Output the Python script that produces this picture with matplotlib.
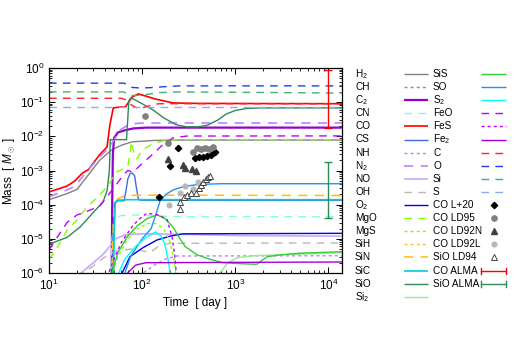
import numpy as np
import matplotlib
matplotlib.use('Agg')
import matplotlib.pyplot as plt
from matplotlib.lines import Line2D

plt.rcParams['font.family'] = ['Liberation Sans', 'DejaVu Sans']
plt.rcParams['mathtext.fontset'] = 'custom'
plt.rcParams['mathtext.rm'] = 'Liberation Sans'
plt.rcParams['mathtext.it'] = 'Liberation Sans:italic'
plt.rcParams['mathtext.bf'] = 'Liberation Sans:bold'

# ---------------- data (time in days, mass in Msun) ----------------
t_H2 = [10, 15.6, 20, 26, 35, 47, 60, 78, 138, 300, 14000]
m_H2 = [1.4e-4, 2.1e-4, 2.8e-4, 7e-4, 2e-3, 4e-3, 5.5e-3, 6.9e-3, 7.6e-3, 7.8e-3, 7.8e-3]
t_CH, m_CH = [], []
t_C2 = [47, 47.7, 48.5, 50, 55, 65, 80, 110, 14000]
m_C2 = [5e-7, 1e-4, 3e-3, 9e-3, 0.013, 0.015, 0.017, 0.018, 0.018]
t_CN = [46, 47.5, 50, 60, 80, 120, 200, 14000]
m_CN = [5e-7, 1e-5, 4e-5, 4.8e-5, 5e-5, 4.8e-5, 4.5e-5, 4.4e-5]
t_CO = [10, 15.6, 19, 23, 26.4, 35, 42, 45, 49, 58, 66, 78, 91, 110, 138, 215, 400, 14000]
m_CO = [2.35e-4, 3.5e-4, 5e-4, 8.5e-4, 1.05e-3, 2.9e-3, 4.9e-3, 0.021, 0.068, 0.072, 0.072,
        0.142, 0.174, 0.15, 0.124, 0.095, 0.092, 0.09]
t_CS = [47.5, 49, 50.5, 55, 64, 67, 70, 74, 78, 83, 87, 91, 95, 14000]
m_CS = [5e-7, 2e-5, 1.1e-4, 1.3e-4, 1.3e-4, 2.5e-4, 5.5e-4, 8e-4, 8.5e-4, 7e-4, 3e-4,
        1.5e-4, 1.35e-4, 1.35e-4]
t_NH = [90, 102, 140, 180, 237, 14000]
m_NH = [5e-7, 1e-6, 1.8e-6, 2.6e-6, 3.15e-6, 3.2e-6]
t_N2 = [10, 15.6, 19, 26.4, 35, 45, 58, 74, 100, 14000]
m_N2 = [1.7e-4, 2.7e-4, 3.5e-4, 1.05e-3, 2.5e-3, 4.9e-3, 0.0154, 0.023, 0.0246, 0.0246]
t_NO = [19, 22, 30, 38, 45, 52, 65, 100, 300, 1000, 14000]
m_NO = [6e-7, 1e-6, 2e-6, 3.5e-6, 6e-6, 1e-5, 1.3e-5, 1.4e-5, 1.35e-5, 1.25e-5, 1.2e-5]
t_OH = [21, 23, 30, 38, 45, 55, 74, 95, 122, 156, 200, 14000]
m_OH = [7e-7, 1e-6, 1.6e-6, 2.7e-6, 3.7e-6, 4.5e-6, 5e-6, 4.6e-6, 4e-6, 6.5e-6, 7.4e-6, 7.6e-6]
t_O2 = [54, 74, 102, 145, 200, 275, 14000]
m_O2 = [5e-7, 3e-6, 5.5e-6, 9.3e-6, 1.2e-5, 1.4e-5, 1.45e-5]
t_MgO = [10, 12, 15.6, 20, 25.7, 35, 45, 51, 60, 70, 74, 77, 82, 88, 100, 130, 170, 250, 14000]
m_MgO = [2.5e-6, 5e-6, 1.8e-5, 3.6e-5, 8.6e-5, 1.9e-4, 4.3e-4, 8.5e-4, 1.05e-3, 1.3e-3,
         3e-3, 7e-3, 3e-3, 2.2e-3, 4e-3, 6e-3, 7.5e-3, 8e-3, 8e-3]
t_MgS = [45, 55, 70, 90, 115, 140, 170, 200, 220, 235]
m_MgS = [5e-7, 3e-6, 1e-5, 2e-5, 2.8e-5, 2.8e-5, 2e-5, 8e-6, 2.5e-6, 6e-7]
t_SiH, m_SiH = [], []
t_SiN = [47, 48.5, 50, 55, 65, 90, 14000]
m_SiN = [5e-7, 1e-5, 1e-4, 1.5e-4, 1.8e-4, 1.9e-4, 1.85e-4]
t_SiC = [49, 50, 51.5, 55, 70, 14000]
m_SiC = [5e-7, 1e-5, 1.2e-4, 1.35e-4, 1.4e-4, 1.4e-4]
t_SiO = [10, 15.6, 21.5, 29.7, 38, 42, 44.5, 45.5, 68, 70, 72, 75, 80, 100, 130, 170, 230,
         300, 400, 500, 650, 800, 1000, 1300, 1800, 14000]
m_SiO = [7e-6, 1.1e-5, 2.2e-5, 5.8e-5, 1.2e-4, 2.5e-4, 1e-3, 8e-3, 8e-3, 3e-2, 0.11, 0.13,
         0.125, 0.09, 0.06, 0.035, 0.022, 0.019, 0.019, 0.021, 0.03, 0.045, 0.057, 0.065,
         0.068, 0.068]
t_Si2 = [680, 840, 1050, 1560, 3000, 14000]
m_Si2 = [1e-6, 2e-6, 2.8e-6, 3.2e-6, 3.4e-6, 3.9e-6]
t_SiS = [44, 55, 70, 90, 115, 145, 175, 215, 250, 290, 390, 540, 740, 1000, 1700, 2200,
         3050, 5000, 14000]
m_SiS = [5e-7, 4e-6, 1.2e-5, 2.5e-5, 4e-5, 5e-5, 4e-5, 2.2e-5, 1.1e-5, 5.9e-6, 3.4e-6,
         2.5e-6, 2e-6, 1.9e-6, 1.8e-6, 3e-6, 3.4e-6, 3.8e-6, 4.2e-6]
t_SO = [60, 75, 100, 125, 140, 156, 180, 215, 280, 400, 700, 14000]
m_SO = [5e-7, 3e-6, 1e-5, 2e-5, 5e-5, 1.3e-4, 2e-4, 2.7e-4, 3.4e-4, 3.9e-4, 4.1e-4, 4.1e-4]
t_S2 = [50, 65, 85, 110, 140, 160, 175, 190, 205]
m_S2 = [5e-7, 2.5e-6, 6e-6, 1.1e-5, 1.6e-5, 1.2e-5, 7e-6, 2.5e-6, 6e-7]
t_FeO = [10, 12.5, 15.6, 20, 26, 35, 45, 55, 62, 70, 80, 100, 130, 170, 215, 300, 14000]
m_FeO = [4.8e-6, 1.2e-5, 3e-5, 5e-5, 6.5e-5, 9e-5, 2.2e-4, 4.5e-4, 7e-4, 1e-3, 9e-4,
         1.6e-3, 3e-3, 6e-3, 9e-3, 1.02e-2, 1.03e-2]
t_FeS = [40, 48, 60, 80, 100, 113, 150, 186, 210, 225, 237]
m_FeS = [5e-7, 2e-6, 8e-6, 2.5e-5, 4.5e-5, 5.6e-5, 5e-5, 3.6e-5, 1.1e-5, 3e-6, 5e-7]
t_Fe2 = [62, 70, 85, 110, 14000]
m_Fe2 = [5e-7, 1e-6, 1.7e-6, 2e-6, 2.1e-6]
t_C = [10, 60, 68, 78, 90, 105, 125, 150, 14000]
m_C = [0.13, 0.13, 0.115, 0.08, 0.066, 0.07, 0.082, 0.09, 0.09]
t_O = [10, 64, 72, 78, 95, 120, 160, 250, 14000]
m_O = [0.36, 0.36, 0.31, 0.27, 0.26, 0.265, 0.28, 0.30, 0.30]
t_Si = [10, 62, 72, 80, 100, 150, 250, 1000, 14000]
m_Si = [0.2, 0.2, 0.18, 0.155, 0.16, 0.19, 0.2, 0.195, 0.185]
t_S = [10, 14000]
m_S = [0.072, 0.072]

# observations
t_L20 = [152, 200, 244, 372, 410, 453, 501, 553, 610]
m_L20 = [1.7e-4, 1.36e-3, 4.6e-3, 2.3e-3, 2.5e-3, 2.5e-3, 2.7e-3, 2.9e-3, 3.5e-3]
t_LD95 = [108, 191, 353, 390, 430, 475, 525, 580]
m_LD95 = [0.04, 6.4e-3, 3.5e-3, 4.6e-3, 4.3e-3, 4.6e-3, 4.3e-3, 4.9e-3]
t_LD92N = [191, 275, 290, 345, 380]
m_LD92N = [2.2e-3, 1.45e-3, 1.2e-3, 1.1e-3, 9.8e-4]
t_LD92L = [195, 257, 290, 355, 400]
m_LD92L = [1e-4, 2.2e-4, 3.5e-4, 2.9e-4, 4.6e-4]
t_LD94 = [256, 256, 283, 303, 336, 380, 410, 430, 453, 488, 513, 538]
m_LD94 = [7.6e-5, 1.2e-4, 1.7e-4, 1.9e-4, 2.2e-4, 2.2e-4, 3.1e-4, 3.8e-4, 4.6e-4, 5.6e-4,
          6.5e-4, 6.9e-4]
t_ALMA = 1e4
co_alma = [0.018, 0.09, 0.87]     # low, centre, high
sio_alma = [4.1e-5, 2.7e-4, 1.8e-3]

labels1 = ['H$_2$', 'CH', 'C$_2$', 'CN', 'CO', 'CS', 'NH', 'N$_2$', 'NO', 'OH', 'O$_2$',
           'MgO', 'MgS', 'SiH', 'SiN', 'SiC', 'SiO', 'Si$_2$']
labels2 = ['SiS', 'SO', 'S$_2$', 'FeO', 'FeS', 'Fe$_2$', 'C', 'O', 'Si', 'S']
labels_obs = ['CO L+20', 'CO LD95', 'CO LD92N', 'CO LD92L', 'SiO LD94', 'CO ALMA', 'SiO ALMA']

LONG = (5.5, 4.5)
SHORT = (2.2, 2.2)
series1 = [
    (t_H2, m_H2, '#808080', None, 1.0),
    (t_CH, m_CH, '#909090', SHORT, 1.0),
    (t_C2, m_C2, '#9400d3', None, 1.6),
    (t_CN, m_CN, '#7fffd4', LONG, 1.0),
    (t_CO, m_CO, '#ff0000', None, 1.2),
    (t_CS, m_CS, '#4169e1', None, 1.0),
    (t_NH, m_NH, '#c080ff', SHORT, 1.0),
    (t_N2, m_N2, '#c080ff', LONG, 1.2),
    (t_NO, m_NO, '#c8a8ff', None, 1.2),
    (t_OH, m_OH, '#b8b8b8', LONG, 1.0),
    (t_O2, m_O2, '#0000e8', None, 1.0),
    (t_MgO, m_MgO, '#7fff00', LONG, 1.0),
    (t_MgS, m_MgS, '#7fff00', SHORT, 1.0),
    (t_SiH, m_SiH, '#ffc020', SHORT, 1.0),
    (t_SiN, m_SiN, '#ffc020', LONG, 1.2),
    (t_SiC, m_SiC, '#00ced1', None, 1.2),
    (t_SiO, m_SiO, '#2e8b57', None, 1.0),
    (t_Si2, m_Si2, '#90ee90', None, 1.0),
]
series2 = [
    (t_SiS, m_SiS, '#32cd32', None, 1.0),
    (t_SO, m_SO, '#1e90ff', None, 1.0),
    (t_S2, m_S2, '#00ffff', None, 1.0),
    (t_FeO, m_FeO, '#c000ff', LONG, 1.0),
    (t_FeS, m_FeS, '#c000ff', SHORT, 1.0),
    (t_Fe2, m_Fe2, '#a000e0', None, 1.0),
    (t_C, m_C, '#ff2020', LONG, 1.0),
    (t_O, m_O, '#2040f0', LONG, 1.0),
    (t_Si, m_Si, '#3cb371', LONG, 1.0),
    (t_S, m_S, '#90a8f0', LONG, 1.0),
]

W, H = 518, 363
fig = plt.figure(figsize=(W / 100, H / 100), dpi=100)
ax = fig.add_axes([49 / W, 1 - 273 / H, (342 - 49) / W, (273 - 68) / H])
ax.set_xscale('log')
ax.set_yscale('log')

def draw(a, t, m, c, d, lw):
    ln, = a.plot(t, m, color=c, lw=lw, solid_capstyle='butt')
    if d is not None:
        ln.set_dashes(d)
    return ln

for s in series1 + series2:
    draw(ax, *s)

ax.plot(t_L20, m_L20, 'D', color='black', ms=3.2, ls='none')
ax.plot(t_LD95, m_LD95, 'o', color='#808080', ms=3.8, ls='none')
ax.plot(t_LD92N, m_LD92N, '^', color='#404040', ms=4, ls='none')
ax.plot(t_LD92L, m_LD92L, 'o', color='#b8b8b8', ms=3.4, ls='none')
ax.plot(t_LD94, m_LD94, '^', mfc='white', mec='#404040', mew=0.7, ms=4.2, ls='none')
ax.errorbar([t_ALMA], [co_alma[1]], yerr=[[co_alma[1] - co_alma[0]], [co_alma[2] - co_alma[1]]],
            fmt='none', ecolor='#ff0000', elinewidth=1.0, capsize=3, capthick=1.0)
ax.errorbar([t_ALMA], [sio_alma[1]], yerr=[[sio_alma[1] - sio_alma[0]], [sio_alma[2] - sio_alma[1]]],
            fmt='none', ecolor='#2e8b57', elinewidth=1.0, capsize=3, capthick=1.0)

ax.set_xlim(10, 14000)
ax.set_ylim(1e-6, 1)
ax.tick_params(which='both', direction='in', top=True, right=True, labelsize=8.5)
ax.tick_params(which='major', length=4, width=0.7)
ax.tick_params(which='minor', length=2, width=0.6)
for sp in ax.spines.values():
    sp.set_linewidth(0.9)
ax.set_xlabel('Time  [ day ]', fontsize=8.5, labelpad=3)
ax.set_ylabel('Mass  [ $M_\\odot$ ]', fontsize=8.5, labelpad=2)

# ---------------- key (drawn in pixel coordinates) ----------------
kx = fig.add_axes([0, 0, 1, 1], facecolor='none')
kx.set_xlim(0, W)
kx.set_ylim(H, 0)
kx.axis('off')
row0, dy = 74, 13.1
fs = 7.2
for i, (lab, s) in enumerate(zip(labels1, series1)):
    y = row0 + i * dy
    kx.text(355, y, lab, fontsize=fs, va='center', ha='left')
    draw(kx, [404, 428], [y, y], s[2], s[3], s[4])
for i, (lab, s) in enumerate(zip(labels2, series2)):
    y = row0 + i * dy
    kx.text(433, y, lab, fontsize=fs, va='center', ha='left')
    draw(kx, [481, 506], [y, y], s[2], s[3], s[4])
obs_styles = [
    dict(marker='D', color='black', ms=3.2),
    dict(marker='o', color='#808080', ms=3.8),
    dict(marker='^', color='#404040', ms=4),
    dict(marker='o', color='#b8b8b8', ms=3.4),
    dict(marker='^', mfc='white', mec='#404040', mew=0.7, ms=4.2),
]
n2 = len(labels2)
for j, lab in enumerate(labels_obs):
    y = row0 + (n2 + j) * dy
    kx.text(433, y, lab, fontsize=fs, va='center', ha='left')
    if j < 5:
        kx.plot([493.5], [y], ls='none', **obs_styles[j])
    else:
        c = '#ff0000' if j == 5 else '#2e8b57'
        kx.plot([481, 506], [y, y], color=c, lw=1.0)
        kx.plot([481, 481], [y - 3, y + 3], color=c, lw=1.0)
        kx.plot([506, 506], [y - 3, y + 3], color=c, lw=1.0)

fig.savefig('out.png', dpi=100)
